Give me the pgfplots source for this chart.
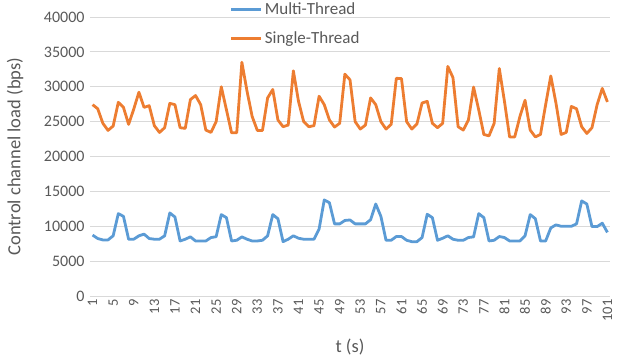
\documentclass[border=0pt]{standalone}
\usepackage{pgfplots}
\pgfplotsset{compat=1.18}
\usepackage{pgfplotstable}
\usepackage{fontspec}
\setmainfont{Carlito}
\definecolor{mblue}{HTML}{5B9BD5}
\definecolor{morange}{HTML}{ED7D31}
\definecolor{txt}{HTML}{595959}
\definecolor{gridc}{HTML}{D9D9D9}
\pgfplotstableread{
t multi single
1 8730 27430
2 8240 26850
3 8040 24760
4 8040 23740
5 8630 24370
6 11810 27770
7 11420 27040
8 8140 24600
9 8140 26800
10 8630 29220
11 8870 27040
12 8240 27280
13 8140 24420
14 8140 23450
15 8630 24130
16 11910 27620
17 11320 27430
18 7890 24130
19 8140 24030
20 8480 28160
21 7890 28740
22 7890 27430
23 7890 23790
24 8380 23450
25 8500 25000
26 11670 30000
27 11230 26700
28 7890 23400
29 7990 23400
30 8480 33500
31 8140 29370
32 7890 25730
33 7890 23740
34 7990 23740
35 8630 28400
36 11670 29610
37 11080 25240
38 7790 24270
39 8140 24510
40 8630 32280
41 8280 27910
42 8140 25000
43 8140 24270
44 8140 24420
45 9610 28640
46 13770 27430
47 13380 25240
48 10340 24220
49 10340 24760
50 10830 31800
51 10900 31000
52 10340 25000
53 10340 23930
54 10340 24510
55 10930 28400
56 13190 27430
57 11420 25000
58 7990 23930
59 7990 24610
60 8530 31210
61 8530 31170
62 7990 25000
63 7790 23930
64 7790 24660
65 8380 27670
66 11720 27910
67 11230 24760
68 7990 24130
69 8280 24760
70 8630 32910
71 8140 31310
72 7990 24270
73 7990 23790
74 8380 25240
75 8480 29950
76 11810 26700
77 11230 23160
78 7890 22960
79 7990 24760
80 8530 32620
81 8380 27910
82 7890 22810
83 7890 22810
84 7890 25730
85 8630 28060
86 11670 23790
87 11080 22810
88 7890 23160
89 7890 27430
90 9760 31550
91 10200 27670
92 10000 23160
93 10000 23450
94 10000 27180
95 10340 26840
96 13630 24270
97 13190 23300
98 9950 24130
99 9950 27430
100 10440 29760
101 9120 27820
}\datatable
\begin{document}
\begin{tikzpicture}
\useasboundingbox (-90pt,-63pt) rectangle (532pt,296pt);
\begin{axis}[
  at={(0pt,0pt)}, anchor=south west,
  scale only axis, width=520pt, height=279pt,
  xmin=0.5, xmax=101.5, ymin=0, ymax=40000,
  xtick={1,5,...,101}, ytick={0,5000,...,40000},
  ymajorgrids, grid style={gridc, line width=0.8pt},
  axis line style={draw=none}, major tick length=0pt,
  /pgf/number format/assume math mode=true,
  scaled y ticks=false,
  yticklabel style={/pgf/number format/1000 sep={}, font=\fontsize{16}{16}\selectfont, text=txt, xshift=-2pt},
  xticklabel style={rotate=90, anchor=east, font=\fontsize{14.5}{14.5}\selectfont, text=txt},
  ylabel={Control channel load (bps)},
  xlabel={t (s)},
  ylabel style={at={(axis description cs:-0.144,0.5)}, anchor=center, font=\fontsize{18.5}{18.5}\selectfont, text=txt},
  xlabel style={at={(axis description cs:0.5,-0.183)}, anchor=center, font=\fontsize{18.5}{18.5}\selectfont, text=txt},
  legend cell align=left,
  legend style={at={(0.269,1.06)}, anchor=north west, draw=none, fill=none,
    font=\fontsize{17}{17}\selectfont, text=txt, row sep=12pt, inner sep=0pt},
  legend image code/.code={\draw[#1] (0pt,0pt) -- (30pt,0pt);},
]
\addplot[mblue, line width=2.8pt, line join=round] table[x=t, y=multi] {\datatable};
\addlegendentry{Multi-Thread}
\addplot[morange, line width=2.8pt, line join=round] table[x=t, y=single] {\datatable};
\addlegendentry{Single-Thread}
\end{axis}
\end{tikzpicture}
\end{document}
